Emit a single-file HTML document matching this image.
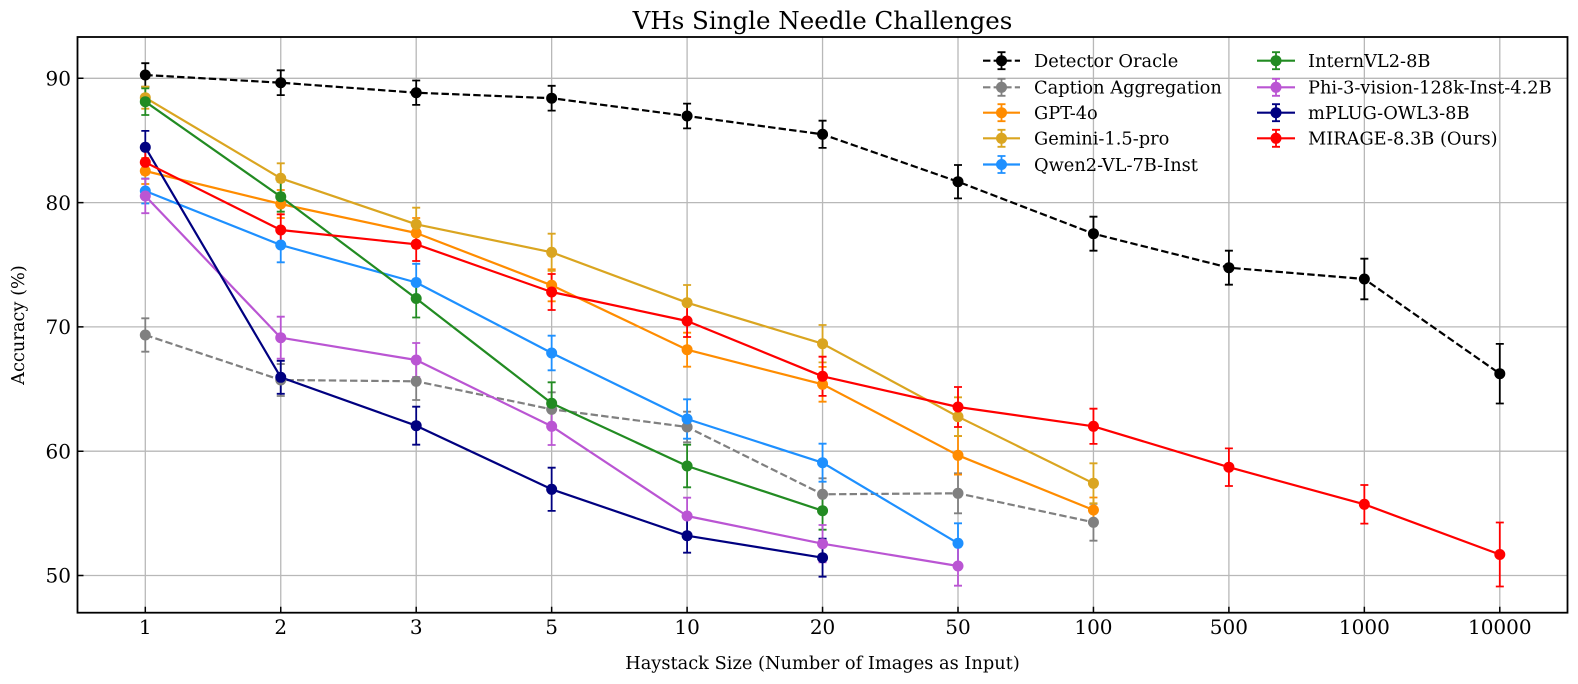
<!DOCTYPE html>
<html><head><meta charset="utf-8"><style>
html,body{margin:0;padding:0;background:#fff;}
svg{display:block;font-family:"DejaVu Serif","Liberation Serif",serif;}
</style></head><body>
<svg width="1578" height="684" viewBox="0 0 1578 684" xmlns="http://www.w3.org/2000/svg">
<rect width="1578" height="684" fill="#fff"/>
<!-- grid -->
<g stroke="#b8b8b8" stroke-width="1.3" fill="none">
<path d="M145.3 37V612.7M280.75 37V612.7M416.2 37V612.7M551.65 37V612.7M687.1 37V612.7M822.55 37V612.7M958 37V612.7M1093.45 37V612.7M1228.9 37V612.7M1364.35 37V612.7M1499.8 37V612.7"/>
<path d="M77.5 78.3H1567.5M77.5 202.6H1567.5M77.5 326.9H1567.5M77.5 451.2H1567.5M77.5 575.5H1567.5"/>
</g>
<!-- series -->
<g fill="none" stroke-width="2.2" stroke-linejoin="round">
<!-- Detector Oracle -->
<path stroke="#000" stroke-width="1.8" d="M145.3 63.2V86.8M141.3 63.2h8M141.3 86.8h8M280.75 70.3V95.1M276.75 70.3h8M276.75 95.1h8M416.2 80.5V104.9M412.2 80.5h8M412.2 104.9h8M551.65 85.8V110.6M547.65 85.8h8M547.65 110.6h8M687.1 103.6V128.4M683.1 103.6h8M683.1 128.4h8M822.55 120.7V147.9M818.55 120.7h8M818.55 147.9h8M958 165V198.4M954 165h8M954 198.4h8M1093.45 216.7V250.7M1089.45 216.7h8M1089.45 250.7h8M1228.9 250.7V284.7M1224.9 250.7h8M1224.9 284.7h8M1364.35 258.7V299.3M1360.35 258.7h8M1360.35 299.3h8M1499.8 343.9V403.5M1495.8 343.9h8M1495.8 403.5h8"/>
<polyline stroke="#000" stroke-dasharray="7.4 3.2" points="145.3,75 280.75,82.7 416.2,92.7 551.65,98.2 687.1,116 822.55,134.3 958,181.7 1093.45,233.7 1228.9,267.7 1364.35,279 1499.8,373.7"/>
<!-- Caption Aggregation -->
<path stroke="#808080" stroke-width="1.8" d="M145.3 318.3V351.7M141.3 318.3h8M141.3 351.7h8M280.75 364V396M276.75 364h8M276.75 396h8M416.2 362.6V400M412.2 362.6h8M412.2 400h8M551.65 392.3V426.3M547.65 392.3h8M547.65 426.3h8M687.1 411.7V442.3M683.1 411.7h8M683.1 442.3h8M822.55 478.3V510.3M818.55 478.3h8M818.55 510.3h8M958 473.3V513.3M954 473.3h8M954 513.3h8M1093.45 503.9V540.7M1089.45 503.9h8M1089.45 540.7h8"/>
<polyline stroke="#808080" stroke-dasharray="7.4 3.2" points="145.3,335 280.75,380 416.2,381.3 551.65,409.3 687.1,427 822.55,494.3 958,493.3 1093.45,522.3"/>
<!-- GPT-4o -->
<path stroke="#ff8c00" stroke-width="1.8" d="M145.3 158V184M141.3 158h8M141.3 184h8M280.75 190V218M276.75 190h8M276.75 218h8M416.2 218V248M412.2 218h8M412.2 248h8M551.65 269.3V301.3M547.65 269.3h8M547.65 301.3h8M687.1 332.7V366.7M683.1 332.7h8M683.1 366.7h8M822.55 366.9V401.7M818.55 366.9h8M818.55 401.7h8M958 436V474.6M954 436h8M954 474.6h8M1093.45 497.5V522.5M1089.45 497.5h8M1089.45 522.5h8"/>
<polyline stroke="#ff8c00" points="145.3,171 280.75,204 416.2,233 551.65,285.3 687.1,349.7 822.55,384.3 958,455.3 1093.45,510"/>
<!-- Gemini -->
<path stroke="#daa520" stroke-width="1.8" d="M145.3 86.7V108.7M141.3 86.7h8M141.3 108.7h8M280.75 163.3V193.3M276.75 163.3h8M276.75 193.3h8M416.2 207.7V240.9M412.2 207.7h8M412.2 240.9h8M551.65 233.7V270.9M547.65 233.7h8M547.65 270.9h8M687.1 285V320.4M683.1 285h8M683.1 320.4h8M822.55 325V362.4M818.55 325h8M818.55 362.4h8M958 397.3V436.1M954 397.3h8M954 436.1h8M1093.45 463.3V503.3M1089.45 463.3h8M1089.45 503.3h8"/>
<polyline stroke="#daa520" points="145.3,97.7 280.75,178.3 416.2,224.3 551.65,252.3 687.1,302.7 822.55,343.7 958,416.7 1093.45,483.3"/>
<!-- Qwen -->
<path stroke="#1e90ff" stroke-width="1.8" d="M145.3 178.5V203.5M141.3 178.5h8M141.3 203.5h8M280.75 227.7V262.3M276.75 227.7h8M276.75 262.3h8M416.2 263.8V301.2M412.2 263.8h8M412.2 301.2h8M551.65 335.7V370.3M547.65 335.7h8M547.65 370.3h8M687.1 399.3V438.7M683.1 399.3h8M683.1 438.7h8M822.55 443.7V481.7M818.55 443.7h8M818.55 481.7h8M958 523.3V563.3M954 523.3h8M954 563.3h8"/>
<polyline stroke="#1e90ff" points="145.3,191 280.75,245 416.2,282.5 551.65,353 687.1,419 822.55,462.7 958,543.3"/>
<!-- InternVL -->
<path stroke="#228b22" stroke-width="1.8" d="M145.3 88.4V115M141.3 88.4h8M141.3 115h8M280.75 181.7V211.7M276.75 181.7h8M276.75 211.7h8M416.2 279.5V317.5M412.2 279.5h8M412.2 317.5h8M551.65 382.3V424.3M547.65 382.3h8M547.65 424.3h8M687.1 444.7V487.3M683.1 444.7h8M683.1 487.3h8M822.55 491.7V529.7M818.55 491.7h8M818.55 529.7h8"/>
<polyline stroke="#228b22" points="145.3,101.7 280.75,196.7 416.2,298.5 551.65,403.3 687.1,466 822.55,510.7"/>
<!-- Phi -->
<path stroke="#ba55d3" stroke-width="1.8" d="M145.3 178.8V213.2M141.3 178.8h8M141.3 213.2h8M280.75 316.7V358.7M276.75 316.7h8M276.75 358.7h8M416.2 343V377M412.2 343h8M412.2 377h8M551.65 407.6V445M547.65 407.6h8M547.65 445h8M687.1 497.7V534.3M683.1 497.7h8M683.1 534.3h8M822.55 525V562.4M818.55 525h8M818.55 562.4h8M958 546.3V585.7M954 546.3h8M954 585.7h8"/>
<polyline stroke="#ba55d3" points="145.3,196 280.75,337.7 416.2,360 551.65,426.3 687.1,516 822.55,543.7 958,566"/>
<!-- mPLUG -->
<path stroke="#000080" stroke-width="1.8" d="M145.3 130.9V163.7M141.3 130.9h8M141.3 163.7h8M280.75 360.8V393.8M276.75 360.8h8M276.75 393.8h8M416.2 406.7V444.7M412.2 406.7h8M412.2 444.7h8M551.65 467.7V510.9M547.65 467.7h8M547.65 510.9h8M687.1 518.7V552.7M683.1 518.7h8M683.1 552.7h8M822.55 538.7V576.7M818.55 538.7h8M818.55 576.7h8"/>
<polyline stroke="#000080" points="145.3,147.3 280.75,377.3 416.2,425.7 551.65,489.3 687.1,535.7 822.55,557.7"/>
<!-- MIRAGE -->
<path stroke="#ff0000" stroke-width="1.8" d="M145.3 150.3V174.3M141.3 150.3h8M141.3 174.3h8M280.75 214.3V245.7M276.75 214.3h8M276.75 245.7h8M416.2 227.6V261M412.2 227.6h8M412.2 261h8M551.65 274V310M547.65 274h8M547.65 310h8M687.1 305V337M683.1 305h8M683.1 337h8M822.55 356.7V395.9M818.55 356.7h8M818.55 395.9h8M958 387V427M954 387h8M954 427h8M1093.45 408.7V443.9M1089.45 408.7h8M1089.45 443.9h8M1228.9 448.4V486M1224.9 448.4h8M1224.9 486h8M1364.35 485V523.6M1360.35 485h8M1360.35 523.6h8M1499.8 522.5V586.5M1495.8 522.5h8M1495.8 586.5h8"/>
<polyline stroke="#ff0000" points="145.3,162.3 280.75,230 416.2,244.3 551.65,292 687.1,321 822.55,376.3 958,407 1093.45,426.3 1228.9,467.2 1364.35,504.3 1499.8,554.5"/>
</g>
<!-- markers -->
<g fill="#000"><circle cx="145.3" cy="75" r="5.5"/><circle cx="280.75" cy="82.7" r="5.5"/><circle cx="416.2" cy="92.7" r="5.5"/><circle cx="551.65" cy="98.2" r="5.5"/><circle cx="687.1" cy="116" r="5.5"/><circle cx="822.55" cy="134.3" r="5.5"/><circle cx="958" cy="181.7" r="5.5"/><circle cx="1093.45" cy="233.7" r="5.5"/><circle cx="1228.9" cy="267.7" r="5.5"/><circle cx="1364.35" cy="279" r="5.5"/><circle cx="1499.8" cy="373.7" r="5.5"/></g>
<g fill="#808080"><circle cx="145.3" cy="335" r="5.5"/><circle cx="280.75" cy="380" r="5.5"/><circle cx="416.2" cy="381.3" r="5.5"/><circle cx="551.65" cy="409.3" r="5.5"/><circle cx="687.1" cy="427" r="5.5"/><circle cx="822.55" cy="494.3" r="5.5"/><circle cx="958" cy="493.3" r="5.5"/><circle cx="1093.45" cy="522.3" r="5.5"/></g>
<g fill="#ff8c00"><circle cx="145.3" cy="171" r="5.5"/><circle cx="280.75" cy="204" r="5.5"/><circle cx="416.2" cy="233" r="5.5"/><circle cx="551.65" cy="285.3" r="5.5"/><circle cx="687.1" cy="349.7" r="5.5"/><circle cx="822.55" cy="384.3" r="5.5"/><circle cx="958" cy="455.3" r="5.5"/><circle cx="1093.45" cy="510" r="5.5"/></g>
<g fill="#daa520"><circle cx="145.3" cy="97.7" r="5.5"/><circle cx="280.75" cy="178.3" r="5.5"/><circle cx="416.2" cy="224.3" r="5.5"/><circle cx="551.65" cy="252.3" r="5.5"/><circle cx="687.1" cy="302.7" r="5.5"/><circle cx="822.55" cy="343.7" r="5.5"/><circle cx="958" cy="416.7" r="5.5"/><circle cx="1093.45" cy="483.3" r="5.5"/></g>
<g fill="#1e90ff"><circle cx="145.3" cy="191" r="5.5"/><circle cx="280.75" cy="245" r="5.5"/><circle cx="416.2" cy="282.5" r="5.5"/><circle cx="551.65" cy="353" r="5.5"/><circle cx="687.1" cy="419" r="5.5"/><circle cx="822.55" cy="462.7" r="5.5"/><circle cx="958" cy="543.3" r="5.5"/></g>
<g fill="#228b22"><circle cx="145.3" cy="101.7" r="5.5"/><circle cx="280.75" cy="196.7" r="5.5"/><circle cx="416.2" cy="298.5" r="5.5"/><circle cx="551.65" cy="403.3" r="5.5"/><circle cx="687.1" cy="466" r="5.5"/><circle cx="822.55" cy="510.7" r="5.5"/></g>
<g fill="#ba55d3"><circle cx="145.3" cy="196" r="5.5"/><circle cx="280.75" cy="337.7" r="5.5"/><circle cx="416.2" cy="360" r="5.5"/><circle cx="551.65" cy="426.3" r="5.5"/><circle cx="687.1" cy="516" r="5.5"/><circle cx="822.55" cy="543.7" r="5.5"/><circle cx="958" cy="566" r="5.5"/></g>
<g fill="#000080"><circle cx="145.3" cy="147.3" r="5.5"/><circle cx="280.75" cy="377.3" r="5.5"/><circle cx="416.2" cy="425.7" r="5.5"/><circle cx="551.65" cy="489.3" r="5.5"/><circle cx="687.1" cy="535.7" r="5.5"/><circle cx="822.55" cy="557.7" r="5.5"/></g>
<g fill="#ff0000"><circle cx="145.3" cy="162.3" r="5.5"/><circle cx="280.75" cy="230" r="5.5"/><circle cx="416.2" cy="244.3" r="5.5"/><circle cx="551.65" cy="292" r="5.5"/><circle cx="687.1" cy="321" r="5.5"/><circle cx="822.55" cy="376.3" r="5.5"/><circle cx="958" cy="407" r="5.5"/><circle cx="1093.45" cy="426.3" r="5.5"/><circle cx="1228.9" cy="467.2" r="5.5"/><circle cx="1364.35" cy="504.3" r="5.5"/><circle cx="1499.8" cy="554.5" r="5.5"/></g>
<!-- axes frame & ticks -->
<rect x="77.5" y="37" width="1490" height="575.7" fill="none" stroke="#000" stroke-width="1.8"/>
<path stroke="#000" stroke-width="1.5" fill="none" d="M145.3 612.7v-6M280.75 612.7v-6M416.2 612.7v-6M551.65 612.7v-6M687.1 612.7v-6M822.55 612.7v-6M958 612.7v-6M1093.45 612.7v-6M1228.9 612.7v-6M1364.35 612.7v-6M1499.8 612.7v-6M77.5 78.3h6M77.5 202.6h6M77.5 326.9h6M77.5 451.2h6M77.5 575.5h6"/>
<!-- tick labels -->
<g font-size="20" fill="#000" text-anchor="end">
<text x="71" y="85.5">90</text><text x="71" y="209.8">80</text><text x="71" y="334.1">70</text><text x="71" y="458.4">60</text><text x="71" y="582.7">50</text>
</g>
<g font-size="20" fill="#000" text-anchor="middle">
<text x="145.3" y="634">1</text><text x="280.75" y="634">2</text><text x="416.2" y="634">3</text><text x="551.65" y="634">5</text><text x="687.1" y="634">10</text><text x="822.55" y="634">20</text><text x="958" y="634">50</text><text x="1093.45" y="634">100</text><text x="1228.9" y="634">500</text><text x="1364.35" y="634">1000</text><text x="1499.8" y="634">10000</text>
</g>
<text x="822.5" y="669" font-size="17.8" text-anchor="middle">Haystack Size (Number of Images as Input)</text>
<text x="0" y="0" font-size="17.8" text-anchor="middle" transform="translate(24 325) rotate(-90)">Accuracy (%)</text>
<text x="822.5" y="29" font-size="24.5" text-anchor="middle">VHs Single Needle Challenges</text>
<!-- legend -->
<g fill="none" stroke-width="2.2">
<g stroke="#000"><path d="M983 60.7H1020" stroke-dasharray="7.4 3.2"/><path stroke-width="1.8" d="M1001.5 52.2V69.2M997.5 52.2h8M997.5 69.2h8"/></g>
<g stroke="#808080"><path d="M983 87.3H1020" stroke-dasharray="7.4 3.2"/><path stroke-width="1.8" d="M1001.5 78.8V95.8M997.5 78.8h8M997.5 95.8h8"/></g>
<g stroke="#ff8c00"><path d="M983 112.7H1020"/><path stroke-width="1.8" d="M1001.5 104.2V121.2M997.5 104.2h8M997.5 121.2h8"/></g>
<g stroke="#daa520"><path d="M983 138.3H1020"/><path stroke-width="1.8" d="M1001.5 129.8V146.8M997.5 129.8h8M997.5 146.8h8"/></g>
<g stroke="#1e90ff"><path d="M983 164.5H1020"/><path stroke-width="1.8" d="M1001.5 156V173M997.5 156h8M997.5 173h8"/></g>
<g stroke="#228b22"><path d="M1257 60.7H1295"/><path stroke-width="1.8" d="M1276 52.2V69.2M1272 52.2h8M1272 69.2h8"/></g>
<g stroke="#ba55d3"><path d="M1257 87.3H1295"/><path stroke-width="1.8" d="M1276 78.8V95.8M1272 78.8h8M1272 95.8h8"/></g>
<g stroke="#000080"><path d="M1257 112.7H1295"/><path stroke-width="1.8" d="M1276 104.2V121.2M1272 104.2h8M1272 121.2h8"/></g>
<g stroke="#ff0000"><path d="M1257 138.3H1295"/><path stroke-width="1.8" d="M1276 129.8V146.8M1272 129.8h8M1272 146.8h8"/></g>
</g>
<circle cx="1001.5" cy="60.7" r="5.5" fill="#000"/>
<circle cx="1001.5" cy="87.3" r="5.5" fill="#808080"/>
<circle cx="1001.5" cy="112.7" r="5.5" fill="#ff8c00"/>
<circle cx="1001.5" cy="138.3" r="5.5" fill="#daa520"/>
<circle cx="1001.5" cy="164.5" r="5.5" fill="#1e90ff"/>
<circle cx="1276" cy="60.7" r="5.5" fill="#228b22"/>
<circle cx="1276" cy="87.3" r="5.5" fill="#ba55d3"/>
<circle cx="1276" cy="112.7" r="5.5" fill="#000080"/>
<circle cx="1276" cy="138.3" r="5.5" fill="#ff0000"/>
<g font-size="17.8" fill="#000">
<text x="1034" y="67">Detector Oracle</text>
<text x="1034" y="93.6">Caption Aggregation</text>
<text x="1034" y="119">GPT-4o</text>
<text x="1034" y="144.6">Gemini-1.5-pro</text>
<text x="1034" y="170.8">Qwen2-VL-7B-Inst</text>
<text x="1308" y="67">InternVL2-8B</text>
<text x="1308" y="93.6">Phi-3-vision-128k-Inst-4.2B</text>
<text x="1308" y="119">mPLUG-OWL3-8B</text>
<text x="1308" y="144.6">MIRAGE-8.3B (Ours)</text>
</g>
</svg>
</body></html>
